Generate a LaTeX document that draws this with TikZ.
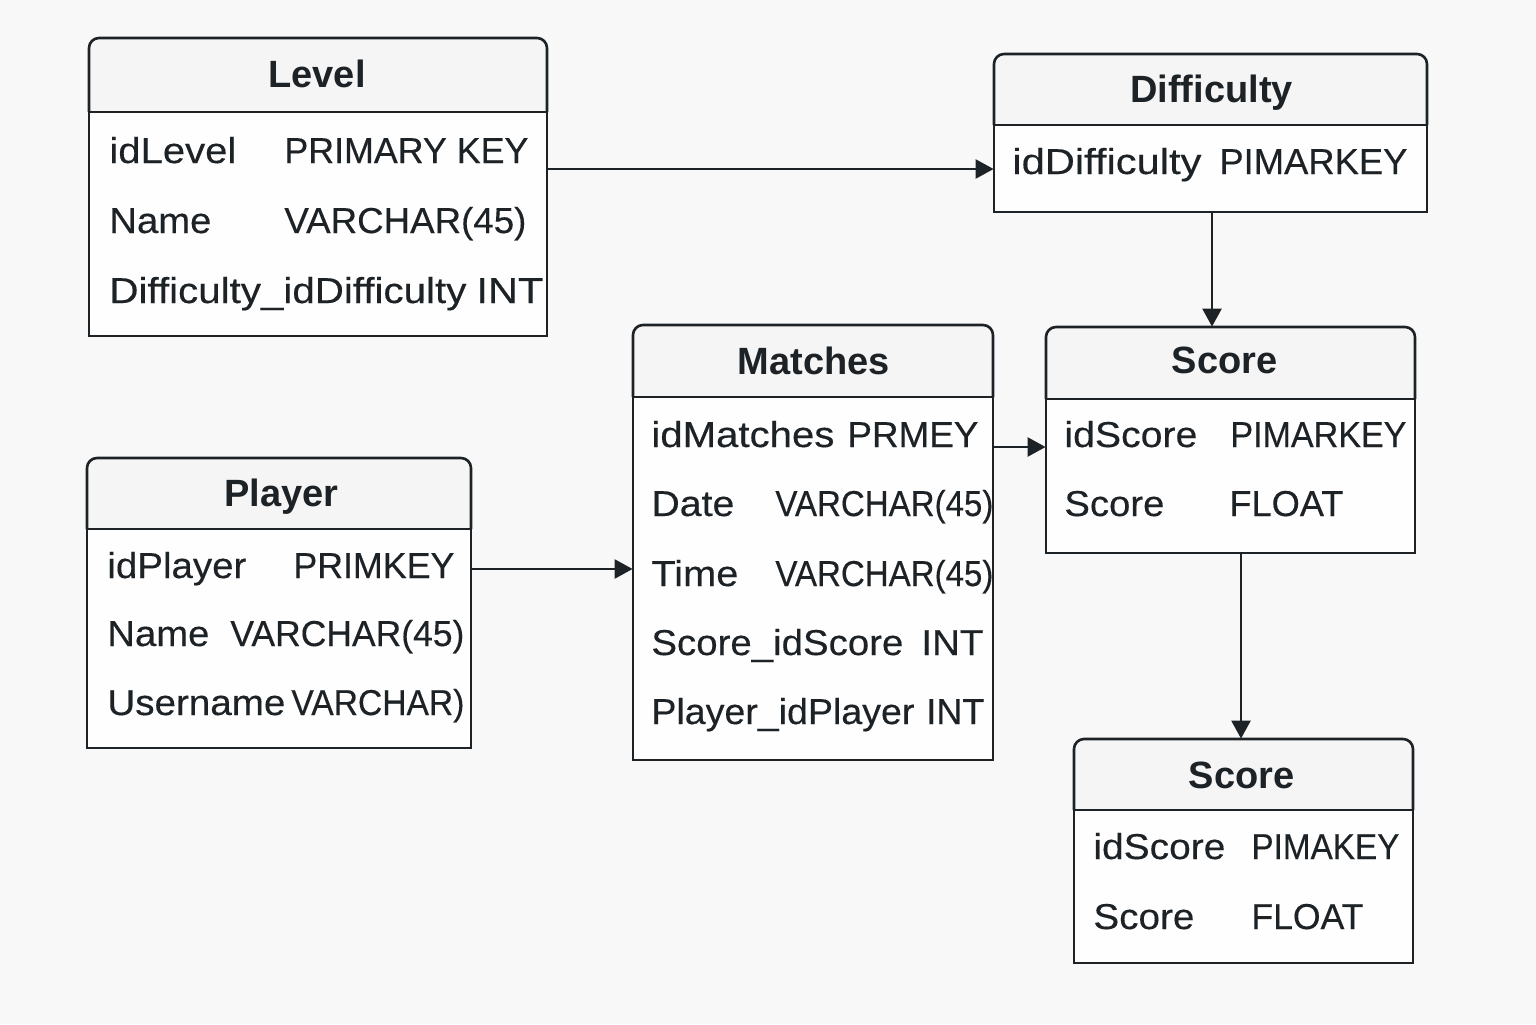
\documentclass[tikz,border=0pt]{standalone}
\usepackage{fontspec}
\setmainfont{Liberation Sans}
\newfontfamily\fldfont[FakeBold=0.3]{Liberation Sans}
\usetikzlibrary{arrows.meta,fit}
\definecolor{bgcol}{HTML}{F8F8F8}
\definecolor{hdrcol}{HTML}{F5F5F5}
\definecolor{bodycol}{HTML}{FEFEFE}
\definecolor{inkcol}{HTML}{1D2226}
\newdimen\pxu \pxu=0.5pt
% name, x1, y1, x2, y2, ydivider
\newcommand\erbox[6]{%
  \fill[hdrcol, rounded corners=5pt] (#2,#6) -- (#2,#3) -- (#4,#3) -- (#4,#6);
  \fill[bodycol] (#2,#6) rectangle (#4,#5);
  \draw[frame, rounded corners=5pt] (#2,#6) -- (#2,#3) -- (#4,#3) -- (#4,#6);
  \draw[frame] (#2,#6) rectangle (#4,#5);
  \node[fit={(#2,#3) (#4,#5)}, inner sep=0pt] (#1) {};
}
\newcommand\ertitle[4]{\node[ttl] (#1) at (#2,#3) {#4};}
\newcommand\erfield[5]{\node[fld] (#1) at (#2-2,#3) {\resizebox{\dimexpr #4\pxu+3\pxu\relax}{\height}{#5}};}
\begin{document}
\begin{tikzpicture}[x=0.5pt, y=-0.5pt,
  frame/.style={draw=inkcol, line width=1.3pt},
  ttl/.style={anchor=base, inner sep=0pt, text=inkcol, font=\fontsize{19pt}{22pt}\selectfont\bfseries},
  fld/.style={anchor=base west, inner sep=0pt, text=inkcol, font=\fontsize{18pt}{21pt}\fldfont},
  arr/.style={draw=inkcol, line width=1.25pt, -{Triangle[length=9pt,width=9.5pt]}}]
\fill[bgcol] (0,0) rectangle (1536,1024);
\useasboundingbox (0,0) rectangle (1536,1024);

% Level
\erbox{level}{89}{38}{547}{336}{112}
\ertitle{levelT}{317}{87}{Level}
\erfield{lv1a}{111}{163}{124}{idLevel}
\erfield{lv1b}{286}{163}{241}{PRIMARY KEY}
\erfield{lv2a}{111}{233}{99}{Name}
\erfield{lv2b}{286}{233}{239}{VARCHAR(45)}
\erfield{lv3a}{111}{303}{354}{Difficulty\_idDifficulty}
\erfield{lv3b}{478}{303}{64}{INT}

% Difficulty
\erbox{diff}{994}{54}{1427}{212}{125}
\ertitle{diffT}{1211.5}{102}{Difficulty}
\erfield{df1a}{1014}{174}{186}{idDifficulty}
\erfield{df1b}{1221}{174}{185}{PIMARKEY}

% Score (upper)
\erbox{score1}{1046}{327}{1415}{553}{399}
\ertitle{score1T}{1224.5}{373}{Score}
\erfield{sa1a}{1066}{447}{130}{idScore}
\erfield{sa1b}{1232}{447}{173}{PIMARKEY}
\erfield{sa2a}{1066}{516}{97}{Score}
\erfield{sa2b}{1231}{516}{111}{FLOAT}

% Matches
\erbox{matches}{633}{325}{993}{760}{397}
\ertitle{matchesT}{814}{374}{Matches}
\erfield{m1a}{653}{447}{180}{idMatches}
\erfield{m1b}{849}{447}{128}{PRMEY}
\erfield{m2a}{653}{516}{80}{Date}
\erfield{m2b}{777}{516}{215}{VARCHAR(45)}
\erfield{m3a}{653}{586}{84}{Time}
\erfield{m3b}{777}{586}{215}{VARCHAR(45)}
\erfield{m4a}{653}{655}{249}{Score\_idScore}
\erfield{m4b}{923}{655}{59}{INT}
\erfield{m5a}{653}{724}{260}{Player\_idPlayer}
\erfield{m5b}{928}{724}{55}{INT}

% Player
\erbox{player}{87}{458}{471}{748}{529}
\ertitle{playerT}{281.5}{506}{Player}
\erfield{p1a}{109}{578}{136}{idPlayer}
\erfield{p1b}{295}{578}{158}{PRIMKEY}
\erfield{p2a}{109}{646}{99}{Name}
\erfield{p2b}{232}{646}{231}{VARCHAR(45)}
\erfield{p3a}{109}{715}{175}{Username}
\erfield{p3b}{293}{715}{170}{VARCHAR)}

% Score (lower)
\erbox{score2}{1074}{739}{1413}{963}{810}
\ertitle{score2T}{1241.5}{788}{Score}
\erfield{sb1a}{1095}{859}{129}{idScore}
\erfield{sb1b}{1253}{859}{145}{PIMAKEY}
\erfield{sb2a}{1095}{929}{98}{Score}
\erfield{sb2b}{1253}{929}{109}{FLOAT}

% connectors
\coordinate (r1) at (0,169);
\coordinate (r3) at (0,447);
\coordinate (r4) at (0,569);
\coordinate (c2) at (1212,0);
\coordinate (c5) at (1241,0);
\draw[arr] (level.east |- r1) -- (diff.west |- r1);
\draw[arr] (diff.south -| c2) -- (score1.north -| c2);
\draw[arr] (matches.east |- r3) -- (score1.west |- r3);
\draw[arr] (player.east |- r4) -- (matches.west |- r4);
\draw[arr] (score1.south -| c5) -- (score2.north -| c5);
\end{tikzpicture}
\end{document}
